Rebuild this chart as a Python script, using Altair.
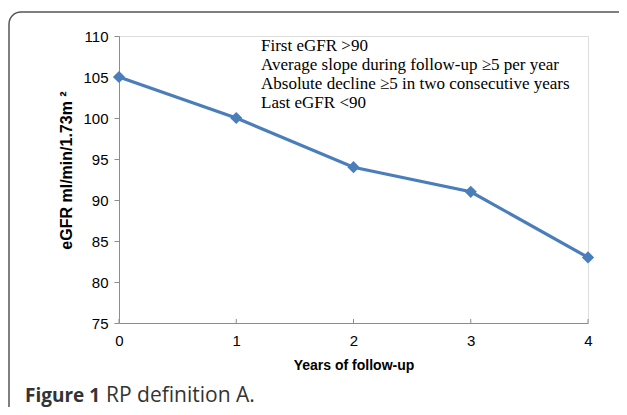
import altair as alt
import pandas as pd

years = [0, 1, 2, 3, 4]
egfr = [105, 100, 94, 91, 83]
y_ticks = [75, 80, 85, 90, 95, 100, 105, 110]
notes = [
    "First eGFR >90",
    "Average slope during follow-up \u22655 per year",
    "Absolute decline \u22655 in two consecutive years",
    "Last eGFR <90",
]

df = pd.DataFrame({"year": years, "egfr": egfr})
one = pd.DataFrame({"k": [0]})

AX = "#8c8c8c"
BLUE = "#4a7ebb"

xs = alt.Scale(domain=[0, 4], nice=False, zero=False)
ys = alt.Scale(domain=[75, 110], nice=False, zero=False)

base = alt.Chart(df)

line = base.mark_line(color=BLUE, strokeWidth=3.2).encode(
    x=alt.X("year:Q", scale=xs, axis=alt.Axis(
        values=years, format="d", title="Years of follow-up", grid=False,
        ticks=False, tickSize=0, labelPadding=10, labelFlush=False, domainColor=AX,
        labelFont="Liberation Sans", labelFontSize=15, labelColor="#000",
        titleFont="Liberation Sans", titleFontSize=14, titleFontWeight="bold",
        titleColor="#000", titleBaseline="alphabetic", titleY=46)),
    y=alt.Y("egfr:Q", scale=ys, axis=alt.Axis(
        values=y_ticks, title="eGFR ml/min/1.73m \u00b2", grid=False,
        tickSize=5, tickColor=AX, domainColor=AX, labelPadding=6, labelFlush=False,
        labelFont="Liberation Sans", labelFontSize=15, labelColor="#000",
        titleFont="Liberation Sans", titleFontSize=16, titleFontWeight="bold",
        titleColor="#000", titleBaseline="alphabetic", titleAlign="center",
        titleX=-48, titleY=134)),
)

pts = base.mark_point(shape="diamond", filled=True, size=150, color=BLUE, opacity=1).encode(
    x=alt.X("year:Q", scale=xs), y=alt.Y("egfr:Q", scale=ys))

xticks = base.mark_rule(color=AX, strokeWidth=1).encode(
    x=alt.X("year:Q", scale=xs), y=alt.value(287), y2=alt.value(283))

note = alt.Chart(one).mark_text(
    text=notes, align="left", baseline="alphabetic", lineHeight=19,
    font="Liberation Serif", fontSize=17, color="#000"
).encode(x=alt.value(142), y=alt.value(15))

cap1 = alt.Chart(one).mark_text(
    text="Figure 1", align="left", baseline="alphabetic",
    font="Open Sans", fontSize=19, fontWeight="bold", color="#333"
).encode(x=alt.value(-94), y=alt.value(366))

cap2 = alt.Chart(one).mark_text(
    text="RP definition A.", align="left", baseline="alphabetic",
    font="Open Sans", fontSize=21, color="#333"
).encode(x=alt.value(-13), y=alt.value(366))

frame = alt.Chart(one).mark_rect(
    fill=None, stroke="#555555", strokeWidth=1.5, cornerRadius=12
).encode(x=alt.value(-110), x2=alt.value(620), y=alt.value(-24), y2=alt.value(500))

chart = alt.layer(frame, xticks, line, pts, note, cap1, cap2).properties(
    width=469, height=287,
    autosize=alt.AutoSizeParams(type="none"),
    padding={"left": 111, "top": 28, "right": 31, "bottom": 84},
).configure_view(stroke=None).configure(background="white")

chart.save("out.html", embed_options={"renderer": "svg", "actions": False})
